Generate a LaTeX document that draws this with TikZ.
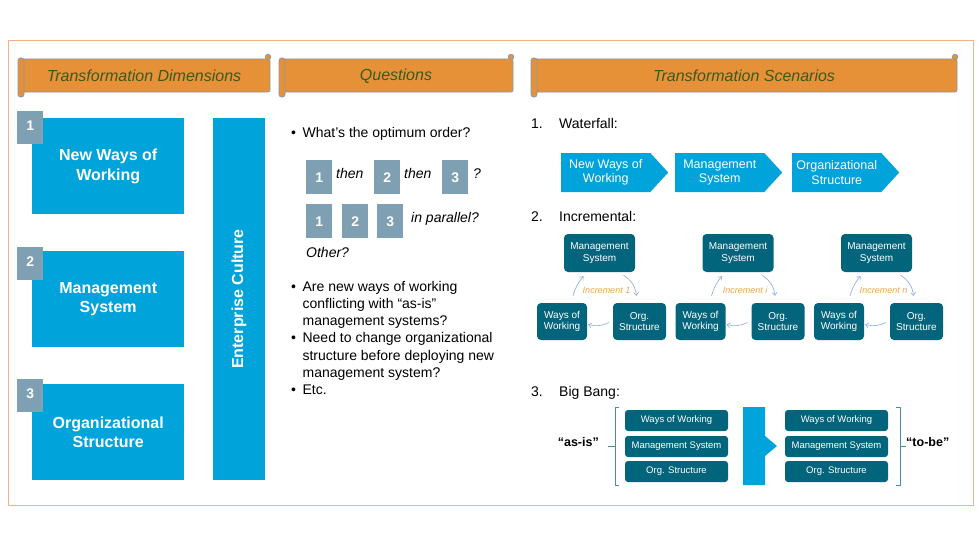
\documentclass[tikz,border=0pt]{standalone}
\usepackage{fontspec}
\setmainfont{Liberation Sans}
\usepackage{xcolor}
\usetikzlibrary{calc, positioning, shapes.symbols, arrows.meta}

\definecolor{dimblue}{RGB}{0,163,218}
\definecolor{taggray}{RGB}{127,160,178}
\definecolor{darkteal}{RGB}{3,101,124}
\definecolor{bannerfill}{RGB}{230,145,56}
\definecolor{bannertext}{RGB}{56,90,30}
\definecolor{bannerline}{RGB}{132,151,176}
\definecolor{frameorange}{RGB}{244,177,131}
\definecolor{loopblue}{RGB}{140,168,222}
\definecolor{incrorange}{RGB}{244,164,74}
\definecolor{bracketteal}{RGB}{70,140,165}

\newcommand{\scrollbanner}[4]{% name, left x, right x, text
  \draw[bannerframe, rounded corners=2] (#2+3,59) -- (#3,59) -- (#3,92) -- (#2+3,92) -- cycle;
  \draw[bannerframe, rounded corners=2.5] (#2,58) rectangle (#2+6,97);
  \draw[bannerframe] (#3-2,57) circle (2.8);
  \node[bannerlabel] (#1) at ({(#2+#3)/2},76) {#4};
}

\begin{document}
\begin{tikzpicture}[x=1pt, y=-1pt, line join=round,
    bannerframe/.style={fill=bannerfill, draw=bannerline, line width=0.7pt},
    bannerlabel/.style={text=bannertext, font=\itshape\fontsize{16}{18}\selectfont, inner sep=0},
    dimbox/.style={fill=dimblue, text=white, font=\bfseries\fontsize{16}{19.5}\selectfont, align=center, inner sep=0},
    numtag/.style={fill=taggray, text=white, font=\bfseries\fontsize{14}{16}\selectfont, anchor=north west,
      minimum width=26, inner xsep=0, inner ysep=4pt, text height=15pt, text depth=10pt},
    qtag/.style={fill=taggray, text=white, font=\bfseries\fontsize{14}{16}\selectfont, anchor=north west,
      minimum width=26, minimum height=34, inner sep=0},
    qtext/.style={font=\fontsize{14}{17.3}\selectfont, inner sep=0, anchor=base west},
    qital/.style={qtext, font=\itshape\fontsize{14}{17.3}\selectfont},
    chevron/.style={signal, signal to=east, signal pointer angle=95, fill=dimblue, text=white,
      font=\fontsize{12.5}{14.5}\selectfont, align=center, minimum width=107, minimum height=39, inner sep=0, anchor=west},
    incbox/.style={fill=darkteal, text=white, rounded corners=4, font=\fontsize{10}{11.5}\selectfont, align=center, inner sep=0},
    incr/.style={text=incrorange, font=\itshape\fontsize{9}{10}\selectfont, inner sep=0},
    loop/.style={draw=loopblue, line width=0.6pt, -{Straight Barb[length=3pt, width=5pt]}},
    bbox/.style={fill=darkteal, text=white, rounded corners=3, font=\fontsize{9.5}{11}\selectfont,
      minimum width=103, minimum height=21, inner sep=0},
    bracket/.style={draw=bracketteal, line width=0.8pt},
    state/.style={font=\bfseries\fontsize{12.5}{14}\selectfont, inner sep=0}]

    \fill[white] (0,0) rectangle (980,551);
    \useasboundingbox (0,0) rectangle (980,551);

    % outer frame
    \draw[frameorange, line width=0.8pt] (8,40) rectangle (973,505);

    % ==========================================
    % BANNERS
    % ==========================================

    \scrollbanner{dimtitle}{18}{270}{Transformation Dimensions}
    \scrollbanner{qtitle}{279}{513}{Questions}
    \scrollbanner{scentitle}{531}{957}{Transformation Scenarios}

    % ==========================================
    % TRANSFORMATION DIMENSIONS
    % ==========================================

    \node[dimbox, minimum width=152, minimum height=96, anchor=north west] (nww) at (32,118) {New Ways of\\Working};
    \node[dimbox, minimum width=152, minimum height=96, anchor=north west] (mgs) at (32,251) {Management\\System};
    \node[dimbox, minimum width=152, minimum height=96, anchor=north west] (ors) at (32,384) {Organizational\\Structure};
    \node[numtag] (t1) at (17,111) {1};
    \node[numtag] (t2) at (17,247) {2};
    \node[numtag] (t3) at (17,379) {3};

    \node[dimbox, rotate=90, minimum width=362, minimum height=52] (culture) at (239,299) {Enterprise Culture};

    % ==========================================
    % QUESTIONS
    % ==========================================

    \node[qtext] (qorder) at (291,137) {\textbullet\hspace{6.5pt}What’s the optimum order?};

    % sequence
    \node[qtag] (s1) at (306,160) {1};
    \node[qtag] (s2) at (374,160) {2};
    \node[qtag] (s3) at (442,160) {3};
    \node[qital] (then1) at (336,178) {then};
    \node[qital] (then2) at (404,178) {then};
    \node[qital] (qmark) at (473,178) {?};

    % parallel
    \node[qtag] (p1) at (306,204) {1};
    \node[qtag] (p2) at (342,204) {2};
    \node[qtag] (p3) at (377,204) {3};
    \node[qital] (para) at (411,222) {in parallel?};

    \node[qital] (other) at (306,257) {Other?};

    \node[qtext] (qlist) at (291,291) {%
      \begin{tabular}[t]{@{}l@{\hspace{6.5pt}}l@{}}
        \textbullet & Are new ways of working\\
                    & conflicting with “as-is”\\
                    & management systems?\\
        \textbullet & Need to change organizational\\
                    & structure before deploying new\\
                    & management system?\\
        \textbullet & Etc.
      \end{tabular}};

    % ==========================================
    % TRANSFORMATION SCENARIOS
    % ==========================================

    % 1. waterfall
    \node[qtext] (n1) at (531,128) {1.};
    \node[qtext] (waterfall) at (559,128) {Waterfall:};
    \node[chevron] (c1) at (561,172.5) {New Ways of\\Working};
    \node[chevron] (c2) at (675,172.5) {Management\\System};
    \node[chevron] (c3) at (792,172.5) {Organizational\\Structure};

    % 2. incremental
    \node[qtext] (n2) at (531,221) {2.};
    \node[qtext] (incremental) at (559,221) {Incremental:};
    \foreach \dx/\k/\lab in {0/1/1, 138.5/2/i, 277/3/n} {
      \node[incbox, minimum width=71, minimum height=38] (mgmt\k) at (599.5+\dx,253) {Management\\System};
      \node[incbox, minimum width=50, minimum height=37] (ways\k) at (562+\dx,321.5) {Ways of\\Working};
      \node[incbox, minimum width=53, minimum height=37] (org\k) at (639.5+\dx,321.5) {Org.\\Structure};
      \node[incr] (inc\k) at ([xshift=7pt, yshift=-18pt]mgmt\k.south) {Increment \lab};
      \draw[loop] ([xshift=11pt, yshift=7pt]ways\k.north) to[bend left=12] ([xshift=-16pt, yshift=-4pt]mgmt\k.south);
      \draw[loop] ([xshift=24pt, yshift=-3pt]mgmt\k.south) to[bend left=25] ([xshift=-3pt, yshift=7pt]org\k.north);
      \draw[loop] ([xshift=-4pt, yshift=-1pt]org\k.west) to[bend left=20] ([xshift=1pt, yshift=-3pt]ways\k.east);
    }

    % 3. big bang
    \node[qtext] (n3) at (531,396) {3.};
    \node[qtext] (bigbang) at (559,396) {Big Bang:};

    \node[bbox] (asw) at (676.5,420.5) {Ways of Working};
    \node[bbox] (asm) at (676.5,446.5) {Management System};
    \node[bbox] (aso) at (676.5,471.5) {Org. Structure};
    \node[bbox] (tbw) at (836.5,420.5) {Ways of Working};
    \node[bbox] (tbm) at (836.5,446.5) {Management System};
    \node[bbox] (tbo) at (836.5,471.5) {Org. Structure};

    \draw[bracket] (619,407) -- (615,407) -- (615,485) -- (619,485);
    \draw[bracket] (615,446) -- (608,446);
    \draw[bracket] (896,407) -- (900,407) -- (900,485) -- (896,485);
    \draw[bracket] (900,446) -- (906,446);

    \node[state, anchor=east] (asis) at (599,442) {“as-is”};
    \node[state, anchor=west] (tobe) at (906,442) {“to-be”};

    % big arrow
    \fill[dimblue] (743,407) -- (765,407) -- (765,436) -- (777,446) -- (765,456) -- (765,485) -- (743,485) -- cycle;

\end{tikzpicture}
\end{document}
